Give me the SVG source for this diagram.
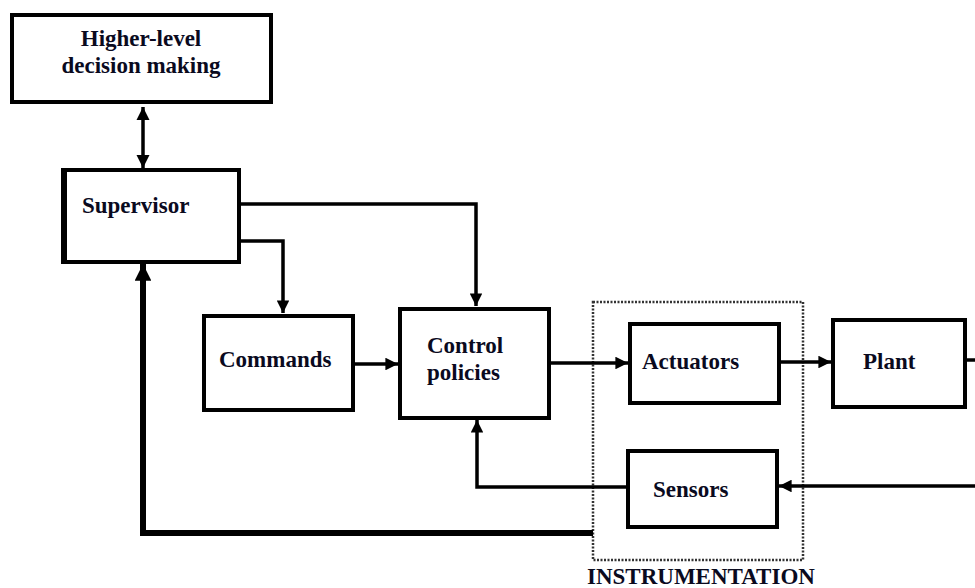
<svg xmlns="http://www.w3.org/2000/svg" width="975" height="588" viewBox="0 0 975 588">
<style>
.box{fill:#fff;stroke:#000;stroke-width:4}
.lbl{font-family:"Liberation Serif","Times New Roman",serif;font-weight:bold;font-size:23px;fill:#0a0a1e}
.ln{fill:none;stroke:#000;stroke-width:3.5}
.thick{fill:none;stroke:#000;stroke-width:6}
</style>
<defs>
<marker id="ah" viewBox="0 0 10 10" refX="10" refY="5" markerWidth="3.6" markerHeight="3.6" orient="auto" markerUnits="strokeWidth">
<path d="M0,0 L10,5 L0,10 z" fill="#000"/>
</marker>
<marker id="ahs" viewBox="0 0 10 10" refX="10" refY="5" markerWidth="3.8" markerHeight="3.8" orient="auto-start-reverse" markerUnits="strokeWidth">
<path d="M0,0 L10,5 L0,10 z" fill="#000"/>
</marker>
<marker id="ahb" viewBox="0 0 10 10" refX="10" refY="5" markerWidth="2.8" markerHeight="2.8" orient="auto" markerUnits="strokeWidth">
<path d="M0,0 L10,5 L0,10 z" fill="#000"/>
</marker>
</defs>
<rect width="975" height="588" fill="#fff"/>
<g id="instrumentation">
<rect x="593" y="302" width="210" height="258" fill="none" stroke="#333" stroke-width="2.5" stroke-dasharray="2,1.5"/>
<text class="lbl" x="587" y="584">INSTRUMENTATION</text>
</g>
<g id="connectors">
<path class="ln" d="M143,107 L143,168" marker-start="url(#ahs)" marker-end="url(#ahs)"/>
<path class="ln" d="M239,204 L476,204 L476,306" marker-end="url(#ah)"/>
<path class="ln" d="M239,241 L283,241 L283,313" marker-end="url(#ah)"/>
<path class="ln" d="M353,364 L398,364" marker-end="url(#ah)"/>
<path class="ln" d="M549,363 L628,363" marker-end="url(#ah)"/>
<path class="ln" d="M779,362 L831,362" marker-end="url(#ah)"/>
<path class="ln" d="M965,360 L975,360"/>
<path class="ln" d="M975,486 L779,486" marker-end="url(#ah)"/>
<path class="ln" d="M628,487 L477,487 L477,420" marker-end="url(#ah)"/>
<path class="thick" d="M593,533 L143,533 L143,264" marker-end="url(#ahb)"/>
</g>
<g id="higher-level">
<rect class="box" x="12" y="15" width="259" height="87"/>
<text class="lbl" x="141" y="46" text-anchor="middle">Higher-level</text>
<text class="lbl" x="141" y="73" text-anchor="middle">decision making</text>
</g>
<g id="supervisor">
<rect class="box" x="64" y="170" width="175" height="92"/>
<line x1="64" y1="168" x2="64" y2="264" stroke="#000" stroke-width="6"/>
<text class="lbl" x="82" y="213">Supervisor</text>
</g>
<g id="commands">
<rect class="box" x="204" y="316" width="149" height="94"/>
<text class="lbl" x="219" y="367">Commands</text>
</g>
<g id="control-policies">
<rect class="box" x="400" y="309" width="149" height="109"/>
<text class="lbl" x="427" y="353">Control</text>
<text class="lbl" x="427" y="380">policies</text>
</g>
<g id="actuators">
<rect class="box" x="630" y="324" width="149" height="79"/>
<text class="lbl" x="642" y="369">Actuators</text>
</g>
<g id="plant">
<rect class="box" x="833" y="320" width="132" height="87"/>
<text class="lbl" x="863" y="369">Plant</text>
</g>
<g id="sensors">
<rect class="box" x="628" y="451" width="149" height="76"/>
<text class="lbl" x="653" y="497">Sensors</text>
</g>
</svg>
